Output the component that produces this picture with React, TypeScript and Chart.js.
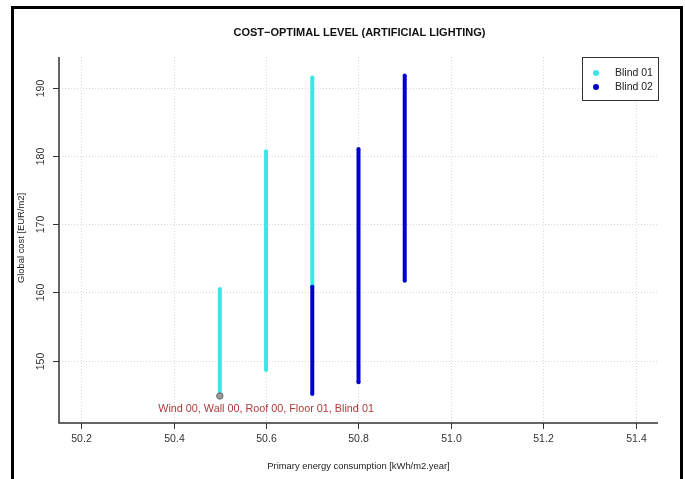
import React, { useEffect, useRef } from "react";
import { Chart, registerables } from "chart.js";

Chart.register(...registerables);

const title = "COST\u2212OPTIMAL LEVEL (ARTIFICIAL LIGHTING)";
const xTitle = "Primary energy consumption [kWh/m2.year]";
const yTitle = "Global cost [EUR/m2]";
const xTicks = [50.2, 50.4, 50.6, 50.8, 51.0, 51.2, 51.4];
const yTicks = [150, 160, 170, 180, 190];
const xRange = [50.152, 51.448];
const yRange = [140.84, 194.5];

const blind01Label = "Blind 01";
const blind01X = [50.5, 50.6, 50.7];
const blind01Min = [144.8, 148.6, 160.8];
const blind01Max = [160.5, 180.7, 191.5];

const blind02Label = "Blind 02";
const blind02X = [50.7, 50.8, 50.9];
const blind02Min = [145.1, 146.8, 161.7];
const blind02Max = [160.8, 181.0, 191.8];

const optimalX = 50.5;
const optimalY = 144.8;
const optimalText = "Wind 00, Wall 00, Roof 00, Floor 01, Blind 01";
const optimalTextX = 50.6;
const optimalTextY = 142.9;

const CYAN = "#3CE6E6";
const BLUE = "#0000CD";
const FONT = "'Liberation Sans', Arial, sans-serif";

function columns(label: string, xs: number[], mins: number[], maxs: number[], color: string, order: number) {
  return xs.map((x, i) => ({
    label,
    data: [
      { x, y: mins[i] },
      { x, y: maxs[i] },
    ],
    showLine: true,
    borderColor: color,
    backgroundColor: color,
    borderWidth: 4,
    pointRadius: 2,
    pointBorderWidth: 0,
    order,
  }));
}

const decorPlugin = {
  id: "decor",
  beforeDatasetsDraw(chart: any) {
    const { ctx, chartArea: a } = chart;
    const xs = chart.scales.x;
    const ys = chart.scales.y;
    ctx.save();
    ctx.strokeStyle = "#d9d9d9";
    ctx.lineWidth = 1;
    ctx.setLineDash([1, 2]);
    for (const t of xTicks) {
      const px = Math.round(xs.getPixelForValue(t)) + 0.5;
      ctx.beginPath();
      ctx.moveTo(px, a.top);
      ctx.lineTo(px, a.bottom);
      ctx.stroke();
    }
    for (const t of yTicks) {
      const py = Math.round(ys.getPixelForValue(t)) + 0.5;
      ctx.beginPath();
      ctx.moveTo(a.left, py);
      ctx.lineTo(a.right, py);
      ctx.stroke();
    }
    ctx.restore();
  },
  afterDraw(chart: any) {
    const { ctx, chartArea: a } = chart;
    const xs = chart.scales.x;
    const ys = chart.scales.y;
    ctx.save();
    // axes
    ctx.strokeStyle = "#333";
    ctx.lineWidth = 1.5;
    ctx.beginPath();
    ctx.moveTo(a.left, a.top);
    ctx.lineTo(a.left, a.bottom);
    ctx.lineTo(a.right, a.bottom);
    ctx.stroke();
    ctx.lineWidth = 1;
    ctx.fillStyle = "#333";
    ctx.font = `10.5px ${FONT}`;
    ctx.textAlign = "center";
    ctx.textBaseline = "middle";
    for (const t of xTicks) {
      const px = Math.round(xs.getPixelForValue(t)) + 0.5;
      ctx.beginPath();
      ctx.moveTo(px, a.bottom);
      ctx.lineTo(px, a.bottom + 6);
      ctx.stroke();
      ctx.fillText(t.toFixed(1), px, a.bottom + 16);
    }
    for (const t of yTicks) {
      const py = Math.round(ys.getPixelForValue(t)) + 0.5;
      ctx.beginPath();
      ctx.moveTo(a.left - 6, py);
      ctx.lineTo(a.left, py);
      ctx.stroke();
      ctx.save();
      ctx.translate(a.left - 18, py);
      ctx.rotate(-Math.PI / 2);
      ctx.fillText(String(t), 0, 0);
      ctx.restore();
    }
    // axis titles
    ctx.fillStyle = "#222";
    ctx.font = `9.4px ${FONT}`;
    ctx.fillText(xTitle, (a.left + a.right) / 2, a.bottom + 43);
    ctx.save();
    ctx.translate(a.left - 38, (a.top + a.bottom) / 2 - 2);
    ctx.rotate(-Math.PI / 2);
    ctx.fillText(yTitle, 0, 0);
    ctx.restore();
    // title
    ctx.fillStyle = "#111";
    ctx.font = `bold 11px ${FONT}`;
    ctx.fillText(title, (a.left + a.right) / 2 + 1, 33);
    // annotation
    ctx.fillStyle = "#B03A3A";
    ctx.font = `10.8px ${FONT}`;
    ctx.fillText(optimalText, xs.getPixelForValue(optimalTextX), ys.getPixelForValue(optimalTextY));
    // legend
    const lx = 582.5, ly = 57.5, lw = 76, lh = 43;
    ctx.fillStyle = "#fff";
    ctx.fillRect(lx, ly, lw, lh);
    ctx.strokeStyle = "#333";
    ctx.lineWidth = 1;
    ctx.strokeRect(lx, ly, lw, lh);
    const items = [
      { label: blind01Label, color: CYAN },
      { label: blind02Label, color: BLUE },
    ];
    ctx.font = `10.5px ${FONT}`;
    ctx.textAlign = "left";
    items.forEach((it, i) => {
      const cy = 73 + i * 14;
      ctx.fillStyle = it.color;
      ctx.beginPath();
      ctx.arc(596, cy, 3, 0, Math.PI * 2);
      ctx.fill();
      ctx.fillStyle = "#222";
      ctx.fillText(it.label, 615, cy);
    });
    ctx.restore();
  },
};

export default function App() {
  const ref = useRef<HTMLCanvasElement>(null);
  useEffect(() => {
    if (!ref.current) return;
    const datasets: any[] = [
      ...columns(blind01Label, blind01X, blind01Min, blind01Max, CYAN, 2),
      ...columns(blind02Label, blind02X, blind02Min, blind02Max, BLUE, 1),
      {
        label: "optimal",
        data: [{ x: optimalX, y: optimalY }],
        pointRadius: 3.2,
        pointBackgroundColor: "#9a9a9a",
        pointBorderColor: "#6a6a6a",
        pointBorderWidth: 1,
        showLine: false,
        order: 0,
      },
    ];
    const chart = new Chart(ref.current, {
      type: "scatter",
      data: { datasets },
      options: {
        responsive: false,
        animation: false,
        devicePixelRatio: 1,
        layout: { padding: { left: 59, right: 27, top: 57, bottom: 56 } },
        plugins: { legend: { display: false }, tooltip: { enabled: false } },
        scales: {
          x: { type: "linear", display: false, min: xRange[0], max: xRange[1] },
          y: { type: "linear", display: false, min: yRange[0], max: yRange[1] },
        },
      },
      plugins: [decorPlugin],
    });
    return () => chart.destroy();
  }, []);
  return (
    <div style={{ position: "fixed", left: 0, top: 0, width: 685, height: 479, background: "#fff", overflow: "hidden" }}>
      <canvas ref={ref} width={685} height={479} style={{ position: "absolute", left: 0, top: 0 }} />
      <div
        style={{
          position: "absolute",
          left: 11,
          top: 6,
          width: 666,
          height: 500,
          border: "3px solid #000",
          boxSizing: "content-box",
          pointerEvents: "none",
        }}
      />
    </div>
  );
}
